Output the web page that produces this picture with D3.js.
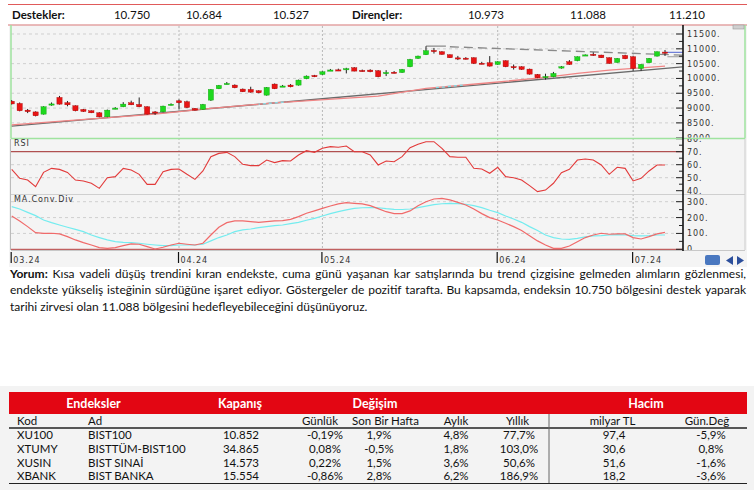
<!DOCTYPE html>
<html lang="tr">
<head>
<meta charset="UTF-8">
<title>BIST100 teknik görünüm</title>
<script src="https://d3js.org/d3.v7.min.js"></script>
<style>
  body { margin: 0; background: #fff; }
  svg { display: block; }
  .ax { font-family: "DejaVu Sans", sans-serif; font-size: 8px; letter-spacing: 0.9px; fill: #333; }
  .txt { font-family: Lato, "Open Sans", sans-serif; fill: #111; }
</style>
</head>
<body>
<svg id="chart" width="754" height="490"></svg>
<script>
// --- daily candles, 01.03.2024 - 05.07.2024 (index 0 = Mar 1)
const opens = [9230,9155,8930,8870,8795,9110,9358,9180,9077,8953, 8908,8840,8705,8980,9043,9178,9122,9043,8870,8874,
  9110,9245,9212,8987,8953,9268,9651,9810,9775,9640, 9628,9583,9437,9809,9730,9775,9775,9989,10101,10135,
  10270,10290,10315,10360,10270,10281,10259,10180,10210,10200, 10394,10676,10800,10945,10900,10800,10695,10685,10698,10515,
  10529,10473,10597,10400,10394,10315,10135,10050,10056,10349, 10563,10597,10780,10815,10788,10698,10540,10777,10732,10338,
  10529,10754,10890];
const highs = [9270,9190,8970,8890,9060,9190,9410,9240,9090,8970, 8920,8860,8950,9030,9200,9250,9358,9060,8900,9080,
  9160,9290,9250,9000,9140,9640,9780,9880,9800,9660, 9720,9600,9710,9830,9780,9810,9960,10100,10120,10240,
  10320,10330,10360,10380,10300,10310,10280,10280,10250,10320, 10660,10770,11088,11030,10920,10810,10760,10720,10710,10560,
  10754,10580,10610,10470,10410,10330,10150,10160,10220,10420, 10620,10745,10810,10880,10800,10710,10690,10800,10750,10480,
  10690,10910,10960];
const lows = [9120,8890,8830,8720,8780,9080,9120,9060,8890,8870, 8830,8690,8690,8960,9030,9100,9030,8780,8770,8860,
  9090,8953,9000,8920,8940,9240,9640,9800,9670,9540, 9520,9500,9420,9640,9710,9700,9760,9975,10045,10120,
  10250,10250,10170,10240,10230,10210,10040,10080,10170,10190, 10380,10660,10790,10840,10800,10690,10620,10640,10490,10480,
  10400,10460,10380,10300,10290,10130,10010,9960,10040,10330, 10460,10580,10770,10760,10690,10495,10530,10650,10259,10259,
  10520,10740,10760];
const closes = [9140,8910,8880,8740,9043,9140,9133,9110,8908,8885, 8840,8705,8930,9000,9133,9110,9043,8795,8850,9066,
  9130,9178,9020,8930,9122,9628,9764,9830,9685,9550, 9538,9516,9696,9651,9745,9718,9944,10079,10056,10225,
  10285,10275,10330,10248,10255,10225,10056,10200,10195,10304, 10642,10754,10935,10925,10811,10698,10680,10670,10507,10500,
  10417,10563,10394,10390,10304,10146,10022,10065,10169,10394, 10473,10732,10795,10805,10698,10507,10676,10664,10338,10473,
  10676,10900,10852];

const rsi = [56.4,49.5,48.2,43.1,54.1,57.2,56.4,54.1,48.2,47.5, 45.7,41.8,50,50.8,57.2,55.9,52.6,44.9,44.9,54.6,
  56.4,56.7,52.6,48.7,55.2,66.2,68.7,69.5,66.2,60.3, 59.3,59.3,63.6,61.6,63.1,62.8,67.5,70.8,69.5,72.6,
  73.9,73.4,74.4,70,70,67.5,59.8,62.8,62.3,66.2, 73.1,75.7,77.7,77.7,72.6,66.2,65.7,65.7,57.2,56.7,
  53.4,58,50.8,50,48.2,43.9,39.3,40.5,45.7,53.9, 56.4,63.6,64.4,63.6,59.8,52.6,58,57.2,47.5,49.5,
  55.2,59.8,59.8];
const macd = [210,179,143,105,101,101,97,80,59,42, 27,11,6,11,23,34,32,17,2,13,
  27,38,32,27,38,90,139,168,179,179, 174,170,174,179,181,189,206,227,242,258,
  273,286,294,290,286,275,256,237,225,225, 242,275,300,317,321,311,296,279,254,225,
  200,185,164,143,118,86,53,27,6,6, 21,48,74,90,101,95,97,97,74,65,
  80,97,107];
const signal = [269,254,233,212,185,168,153,139,126,111, 90,74,59,48,44,42,38,32,27,23,
  23,27,27,27,32,53,74,90,111,122, 128,137,143,149,153,162,170,183,195,210,
  225,237,248,258,262,263,262,256,252,251, 254,263,272,281,287,290,288,284,275,263,
  246,231,210,191,170,143,118,90,74,65, 63,69,78,84,86,90,92,90,86,84,
  86,90,90];

// moving average read at a few candles
const maIdx = [0, 18, 25, 33, 46, 52, 60, 67, 71, 75, 82];
const maVal = [8435, 8795, 8987, 9178, 9403, 9662, 9854, 10034, 10169, 10281, 10417];
// trend lines
const trendIdx = [0, 84.2], trendVal = [8390, 10390];
const resIdx = [55, 84.2], resVal = [11070, 10788];

const monthIdx = [0, 21, 39, 61, 78];
const monthLabels = ["03.24", "04.24", "05.24", "06.24", "07.24"];
const priceTicks = [8000, 8500, 9000, 9500, 10000, 10500, 11000, 11500];
const rsiTicks = [40, 50, 60, 70, 80];
const macdTicks = [0, 100, 200, 300];

const supports = ["10.750", "10.684", "10.527"];
const resistances = ["10.973", "11.088", "11.210"];

// table
const kod = ["XU100", "XTUMY", "XUSIN", "XBANK"];
const ad = ["BIST100", "BISTTÜM-BIST100", "BIST SINAİ", "BIST BANKA"];
const kapanis = ["10.852", "34.865", "14.573", "15.554"];
const gunluk = ["-0,19%", "0,08%", "0,22%", "-0,86%"];
const haftalik = ["1,9%", "-0,5%", "1,5%", "2,8%"];
const aylik = ["4,8%", "1,8%", "3,6%", "6,2%"];
const yillik = ["77,7%", "103,0%", "50,6%", "186,9%"];
const hacim = ["97,4", "30,6", "51,6", "18,2"];
const hacimDeg = ["-5,9%", "0,8%", "-1,6%", "-3,6%"];

const yorum = [
  "Yorum: Kısa vadeli düşüş trendini kıran endekste, cuma günü yaşanan kar satışlarında bu trend çizgisine gelmeden alımların gözlenmesi,",
  "endekste yükseliş isteğinin sürdüğüne işaret ediyor. Göstergeler de pozitif tarafta. Bu kapsamda, endeksin 10.750 bölgesini destek yaparak",
  "tarihi zirvesi olan 11.088 bölgesini hedefleyebileceğini düşünüyoruz."
];

const svg = d3.select("#chart");
const axisX = 683, left = 11, right = 745;

const x = d3.scaleLinear().domain([0, 82]).range([11.7, 665]);
const yP = d3.scaleLinear().domain([8000, 11500]).range([137.7, 34]);
const yR = d3.scaleLinear().domain([40, 70]).range([190.7, 151.7]);
const yM = d3.scaleLinear().domain([0, 300]).range([249.3, 201.7]);

const defs = svg.append("defs");
function clip(id, x0, y0, w, h) {
  defs.append("clipPath").attr("id", id).append("rect")
    .attr("x", x0).attr("y", y0).attr("width", w).attr("height", h);
}
clip("cPrice", left, 25.5, axisX - left, 112);
clip("cPriceAll", left, 25.5, right - left, 112);
clip("cRsi", left, 139, right - left, 55);
clip("cMacd", left, 195, right - left, 55);

// header row
svg.append("line").attr("x1", 8).attr("x2", 747).attr("y1", 4.5).attr("y2", 4.5)
  .attr("stroke", "#e05a5a").attr("stroke-width", 1.2);
svg.append("text").attr("class", "txt").attr("x", 12).attr("y", 19)
  .attr("font-size", 11.5).attr("font-weight", "bold").text("Destekler:");
svg.append("text").attr("class", "txt").attr("x", 352).attr("y", 19)
  .attr("font-size", 11.5).attr("font-weight", "bold").text("Dirençler:");
[132, 204, 291].forEach((cx, i) => svg.append("text").attr("class", "txt").attr("x", cx).attr("y", 19)
  .attr("font-size", 11.5).attr("text-anchor", "middle").text(supports[i]));
[486, 588, 687].forEach((cx, i) => svg.append("text").attr("class", "txt").attr("x", cx).attr("y", 19)
  .attr("font-size", 11.5).attr("text-anchor", "middle").text(resistances[i]));

// chart background + borders
svg.append("rect").attr("x", 9).attr("y", 25).attr("width", 738).attr("height", 242).attr("fill", "#f4f4f4");
const g = svg.append("g");

// month grid
monthIdx.slice(1).forEach(i => {
  g.append("line").attr("x1", x(i)).attr("x2", x(i)).attr("y1", 26).attr("y2", 250)
    .attr("stroke", "#b8b8b8").attr("stroke-dasharray", "2,2");
});
// horizontal grid
priceTicks.slice(1).forEach(v => g.append("line").attr("x1", left).attr("x2", axisX)
  .attr("y1", yP(v)).attr("y2", yP(v)).attr("stroke", "#cfcfcf").attr("stroke-dasharray", "3,3"));
[50, 60].forEach(v => g.append("line").attr("x1", left).attr("x2", axisX)
  .attr("y1", yR(v)).attr("y2", yR(v)).attr("stroke", "#cfcfcf").attr("stroke-dasharray", "3,3"));
[100, 200, 300].forEach(v => g.append("line").attr("x1", left).attr("x2", axisX)
  .attr("y1", yM(v)).attr("y2", yM(v)).attr("stroke", "#cfcfcf").attr("stroke-dasharray", "3,3"));

// panel borders
g.append("line").attr("x1", 8).attr("x2", 747).attr("y1", 25).attr("y2", 25).attr("stroke", "#e3a3a3").attr("stroke-width", 1.5);
g.append("line").attr("x1", left).attr("x2", left).attr("y1", 25).attr("y2", 138.5).attr("stroke", "#9fe39f").attr("stroke-width", 1.5);
g.append("line").attr("x1", left).attr("x2", right).attr("y1", 138.5).attr("y2", 138.5).attr("stroke", "#9fe39f").attr("stroke-width", 1.5);
g.append("line").attr("x1", right).attr("x2", right).attr("y1", 25).attr("y2", 138.5).attr("stroke", "#9fe39f").attr("stroke-width", 1.5);
g.append("line").attr("x1", 10.5).attr("x2", 10.5).attr("y1", 139).attr("y2", 250).attr("stroke", "#bbb");
g.append("line").attr("x1", right).attr("x2", right).attr("y1", 139).attr("y2", 250).attr("stroke", "#ccc");
g.append("line").attr("x1", left).attr("x2", right).attr("y1", 194.5).attr("y2", 194.5).attr("stroke", "#cfcfcf");
g.append("line").attr("x1", left).attr("x2", right).attr("y1", 250.5).attr("y2", 250.5).attr("stroke", "#c8c8c8");

// RSI 70 and MACD 0 lines
g.append("line").attr("x1", left).attr("x2", axisX).attr("y1", yR(70)).attr("y2", yR(70))
  .attr("stroke", "#b05050").attr("stroke-width", 1.3);
g.append("line").attr("x1", left).attr("x2", axisX).attr("y1", yM(0)).attr("y2", yM(0))
  .attr("stroke", "#c06060").attr("stroke-width", 1.3);

// price panel: trend lines and average
const pg = g.append("g").attr("clip-path", "url(#cPrice)");
const lineXY = (idx, vals, ys) => d3.line()(idx.map((d, k) => [x(d), ys(vals[k])]));
pg.append("path").attr("d", lineXY(trendIdx, trendVal, yP)).attr("fill", "none")
  .attr("stroke", "#6a6a6a").attr("stroke-width", 1.4);
pg.append("path").attr("d", lineXY(maIdx, maVal, yP)).attr("fill", "none")
  .attr("stroke", "#f08585").attr("stroke-width", 1.3);
[[31, 34.5], [53, 56.8]].forEach(([a, b], k) => {
  clip("cMa" + k, x(a), 26, x(b) - x(a), 110);
  pg.append("path").attr("d", lineXY(maIdx, maVal, yP)).attr("fill", "none")
    .attr("clip-path", `url(#cMa${k})`)
    .attr("stroke", "#7fe0ea").attr("stroke-width", 1.3).attr("stroke-dasharray", "3,3");
});
pg.append("path").attr("d", lineXY(resIdx, resVal, yP)).attr("fill", "none")
  .attr("stroke", "#8a8a8a").attr("stroke-width", 1.3).attr("stroke-dasharray", "9,5");
pg.append("line").attr("x1", x(52)).attr("x2", x(54.5)).attr("y1", yP(11088)).attr("y2", yP(11088))
  .attr("stroke", "#8a8a8a").attr("stroke-width", 1.3);
pg.append("line").attr("x1", x(82)).attr("x2", axisX).attr("y1", yP(10878)).attr("y2", yP(10878))
  .attr("stroke", "#7080d8").attr("stroke-width", 1.2);
pg.append("line").attr("x1", x(82.3)).attr("x2", axisX).attr("y1", yP(10732)).attr("y2", yP(10732))
  .attr("stroke", "#9a9a9a").attr("stroke-width", 1);

// candles
const candles = d3.range(opens.length).map(i => ({ i, o: opens[i], h: highs[i], l: lows[i], c: closes[i] }));
const cg = pg.selectAll("g.candle").data(candles).join("g").attr("class", "candle");
cg.append("line").attr("x1", d => x(d.i)).attr("x2", d => x(d.i))
  .attr("y1", d => yP(d.h)).attr("y2", d => yP(d.l)).attr("stroke", "#222").attr("stroke-width", 1);
cg.append("rect")
  .attr("x", d => x(d.i) - 2.6).attr("width", 5.2)
  .attr("y", d => yP(Math.max(d.o, d.c)))
  .attr("height", d => Math.max(1.2, Math.abs(yP(d.o) - yP(d.c))))
  .attr("fill", d => d.c >= d.o ? "#1ed81e" : "#e81414")
  .attr("stroke", d => d.c >= d.o ? "#0aa00a" : "#a80000").attr("stroke-width", 0.4);

// RSI
g.append("text").attr("class", "ax").attr("x", 14).attr("y", 146).attr("font-size", 7.5).text("RSI");
g.append("path").datum(rsi).attr("clip-path", "url(#cRsi)")
  .attr("d", d3.line().x((d, i) => x(i)).y(d => yR(d)))
  .attr("fill", "none").attr("stroke", "#e23a3a").attr("stroke-width", 1.1);

// MACD
g.append("text").attr("class", "ax").attr("x", 14).attr("y", 202).attr("font-size", 7.5).text("MA.Conv.Div");
g.append("path").datum(signal).attr("clip-path", "url(#cMacd)")
  .attr("d", d3.line().x((d, i) => x(i)).y(d => yM(d)))
  .attr("fill", "none").attr("stroke", "#74ecef").attr("stroke-width", 1.2);
g.append("path").datum(macd).attr("clip-path", "url(#cMacd)")
  .attr("d", d3.line().x((d, i) => x(i)).y(d => yM(d)))
  .attr("fill", "none").attr("stroke", "#f06a6a").attr("stroke-width", 1.2);

// value axis
g.append("line").attr("x1", axisX).attr("x2", axisX).attr("y1", 25).attr("y2", 251)
  .attr("stroke", "#111").attr("stroke-width", 1.6);
function valueAxis(scale, ticks, minor, fmt, clipId) {
  const ag = g.append("g").attr("clip-path", `url(#${clipId})`);
  minor.forEach(v => ag.append("line").attr("x1", axisX - 4).attr("x2", axisX)
    .attr("y1", scale(v)).attr("y2", scale(v)).attr("stroke", "#222"));
  ticks.forEach(v => {
    ag.append("line").attr("x1", axisX - 7).attr("x2", axisX)
      .attr("y1", scale(v)).attr("y2", scale(v)).attr("stroke", "#222");
    ag.append("text").attr("class", "ax").attr("x", axisX + 4).attr("y", scale(v) + 3).text(fmt(v));
  });
}
valueAxis(yP, priceTicks, d3.range(8250, 11500, 500), v => v === 8000 ? "8000" : v + ".", "cPriceAll");
valueAxis(yR, rsiTicks, [45, 55, 65, 75], v => v + ".", "cRsi");
valueAxis(yM, macdTicks, [50, 150, 250], v => v === 0 ? "0" : v + ".", "cMacd");

// date axis
monthIdx.forEach((i, k) => {
  g.append("line").attr("x1", x(i) - 0.5).attr("x2", x(i) - 0.5).attr("y1", 252).attr("y2", 263)
    .attr("stroke", "#111").attr("stroke-width", 1.2);
  g.append("text").attr("class", "ax").attr("x", x(i) + 1.5).attr("y", 263).text(monthLabels[k]);
});
// small controls
g.append("rect").attr("x", 733).attr("y", 25).attr("width", 11).attr("height", 4).attr("fill", "#d0d0d0").attr("stroke", "#999").attr("stroke-width", 0.6);
g.append("rect").attr("x", 705).attr("y", 255).attr("width", 15).attr("height", 10).attr("rx", 2).attr("fill", "#4a78c0");
g.append("path").attr("d", "M733,256 L733,265 L726,260.5 Z").attr("fill", "#2c4f9c");
g.append("path").attr("d", "M737,256 L737,265 L744,260.5 Z").attr("fill", "#2c4f9c");

// commentary, justified lines
function measure(str, size, bold) {
  const t = svg.append("text").attr("class", "txt").attr("font-size", size)
    .attr("font-weight", bold ? "bold" : "normal").text(str);
  const w = t.node().getComputedTextLength();
  t.remove();
  return w;
}
const lastW = measure(yorum[2], 12, false);
const fs = 12 * 358 / lastW;
const baselines = [277.5, 294, 310.5];
yorum.forEach((line, li) => {
  const words = line.split(" ");
  const bolds = words.map((w, k) => li === 0 && k === 0);
  const widths = words.map((w, k) => measure(w, fs, bolds[k]));
  const total = d3.sum(widths);
  const space = measure("a b", fs) - measure("ab", fs);
  const gap = li < 2 ? (736 - total) / (words.length - 1) : space;
  let cx = 10;
  words.forEach((w, k) => {
    svg.append("text").attr("class", "txt").attr("x", cx).attr("y", baselines[li])
      .attr("font-size", fs).attr("font-weight", bolds[k] ? "bold" : "normal").text(w);
    cx += widths[k] + gap;
  });
});

// table
svg.append("rect").attr("x", 0).attr("y", 386).attr("width", 754).attr("height", 104).attr("fill", "#f3f3f3");
svg.append("rect").attr("x", 9).attr("y", 392).attr("width", 738).attr("height", 22).attr("fill", "#e30613");
[["Endeksler", 93.5], ["Kapanış", 240], ["Değişim", 375], ["Hacim", 646]].forEach(([t, cx]) =>
  svg.append("text").attr("class", "txt").attr("x", cx).attr("y", 408).attr("text-anchor", "middle")
    .attr("font-size", 12.5).attr("font-weight", "bold").style("fill", "#fff").text(t));
const tfs = 11.5;
svg.append("text").attr("class", "txt").attr("x", 17).attr("y", 425).attr("font-size", tfs).text("Kod");
svg.append("text").attr("class", "txt").attr("x", 88).attr("y", 425).attr("font-size", tfs).text("Ad");
[["Günlük", 320], ["Son Bir Hafta", 385.5], ["Aylık", 456], ["Yıllık", 517.5], ["milyar TL", 612.5], ["Gün.Değ", 707]]
  .forEach(([t, cx]) => svg.append("text").attr("class", "txt").attr("x", cx).attr("y", 425)
    .attr("text-anchor", "middle").attr("font-size", tfs).text(t));
svg.append("line").attr("x1", 9).attr("x2", 747).attr("y1", 428).attr("y2", 428).attr("stroke", "#222").attr("stroke-width", 1.5);
svg.append("line").attr("x1", 9).attr("x2", 747).attr("y1", 483.5).attr("y2", 483.5).attr("stroke", "#222").attr("stroke-width", 1.2);
svg.append("line").attr("x1", 549).attr("x2", 549).attr("y1", 414).attr("y2", 483).attr("stroke", "#666");

const rowY = [439, 452.7, 466.5, 480];
const cols = [[kapanis, 241], [gunluk, 325], [haftalik, 379], [aylik, 456], [yillik, 519], [hacim, 614], [hacimDeg, 711]];
kod.forEach((k, r) => {
  svg.append("text").attr("class", "txt").attr("x", 17).attr("y", rowY[r]).attr("font-size", tfs).text(k);
  svg.append("text").attr("class", "txt").attr("x", 88).attr("y", rowY[r]).attr("font-size", tfs).text(ad[r]);
  cols.forEach(([arr, cx]) => svg.append("text").attr("class", "txt").attr("x", cx).attr("y", rowY[r])
    .attr("text-anchor", "middle").attr("font-size", tfs).text(arr[r]));
});
</script>
</body>
</html>
